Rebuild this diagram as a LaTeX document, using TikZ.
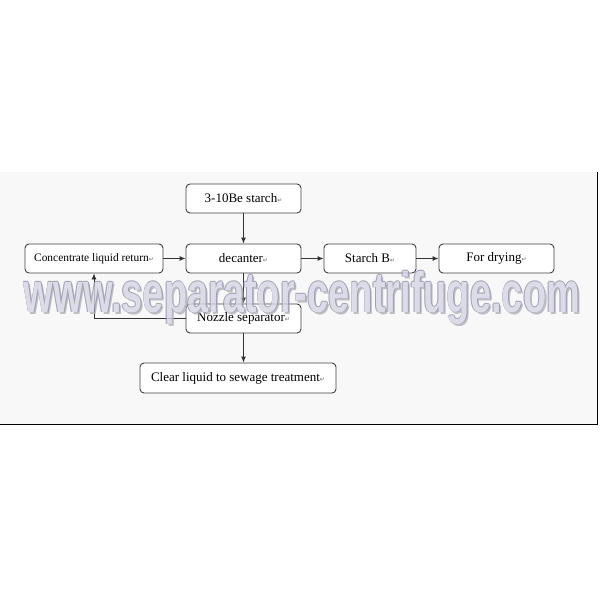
\documentclass[tikz,border=0pt]{standalone}
\usepackage{fontspec}
\setmainfont{Liberation Serif}
\newfontfamily\symfont{DejaVu Sans}
\newfontfamily\markfont{Liberation Sans}
\usetikzlibrary{arrows.meta}
\definecolor{panelgray}{HTML}{F8F8F8}
\definecolor{wmlight}{HTML}{D6D6E4}
\definecolor{wmdark}{HTML}{8A8AA4}
\definecolor{wmshade}{HTML}{B0B0B8}
\newcommand{\pmark}{{\symfont\fontsize{6}{6}\selectfont\textcolor{black!60}{↵}}}
\newcommand{\wmtext}{\markfont\bfseries\fontsize{38}{38}\selectfont\scalebox{1}[1.5]{www.separator-centrifuge.com}}

\begin{document}
\begin{tikzpicture}[x = 1pt, y = -1pt,
  box/.style = {draw = black!75, line width = 0.9pt, rounded corners = 4pt, fill = white,
    minimum height = 29pt, inner sep = 0pt, font = \fontsize{13}{13}\selectfont},
  arr/.style = {draw = black!80, line width = 0.9pt, -{Latex[length = 6pt, width = 5pt]}},
  wmark/.style = {anchor = base, inner sep = 0pt}]
\useasboundingbox (0, 0) rectangle (600, 600);
\fill [panelgray] (0, 172) rectangle (597, 424);
\draw [line width = 1pt] (0, 424) -- (597, 424) -- (597, 172);
% boxes
\node (starch) [box, minimum width = 115pt] at (243.5, 198.5) {3-10Be starch\pmark};
\node (conc) [box, minimum width = 138pt, font = \fontsize{11.4}{11.4}\selectfont] at (94, 258.5) {Concentrate liquid return\pmark};
\node (dec) [box, minimum width = 115pt] at (243.5, 258.5) {decanter\pmark};
\node (sb) [box, minimum width = 92pt] at (370, 258.5) {Starch B\pmark};
\node (dry) [box, minimum width = 115pt] at (496.5, 258.5) {For drying\pmark};
\node (noz) [box, minimum width = 115pt] at (243.5, 318.5) {Nozzle separator\pmark};
\node (clear) [box, minimum width = 196pt, minimum height = 30pt] at (238, 378) {Clear liquid to sewage treatment\pmark};
% connectors
\draw [arr] (starch) -- (dec);
\draw [arr] (conc) -- (dec);
\draw [arr] (dec) -- (sb);
\draw [arr] (sb) -- (dry);
\draw [arr] (dec) -- (noz);
\draw [arr] (noz.south) -- (noz.south |- clear.north);
\draw [arr] (noz.west) -| (conc.south);
% watermark
\begin{scope}[transparency group, opacity = 0.8]
\node (wmshadow) [wmark, text = wmshade] at (304, 314.5) {\wmtext};
\foreach \dx/\dy in {-0.9/0, 0.9/0, 0/-0.9, 0/0.9}
  \node [wmark, text = wmdark] at (302 + \dx, 312 + \dy) {\wmtext};
\node (wm) [wmark, text = wmlight] at (302, 312) {\wmtext};
\end{scope}
\end{tikzpicture}
\end{document}
